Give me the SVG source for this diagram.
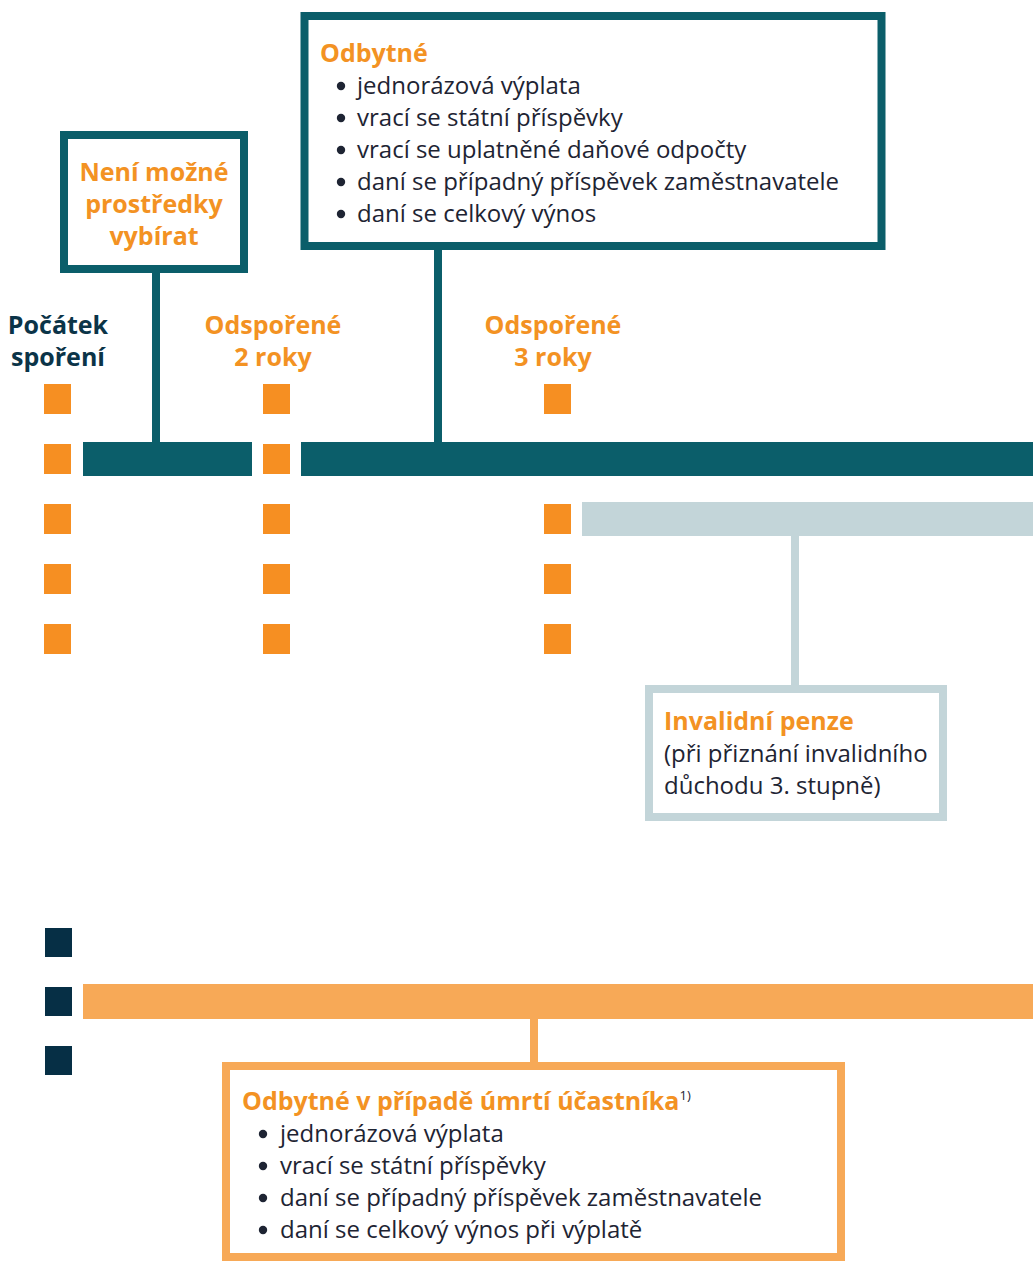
<svg xmlns="http://www.w3.org/2000/svg" width="1033" height="1261" viewBox="0 0 1033 1261">
<style>
.teal{fill:#0b5e6a}
.tealS{fill:#fff;stroke:#0b5e6a;stroke-width:8}
.lblue{fill:#c3d5d9}
.lblueS{fill:#fff;stroke:#c3d5d9;stroke-width:8}
.lor{fill:#f7a957}
.lorS{fill:#fff;stroke:#f7a957;stroke-width:8}
.sq{fill:#f68f22}
.nsq{fill:#062f45}
.b{fill:#1e2433}
.t{font-family:"Open Sans","Noto Sans","DejaVu Sans",sans-serif;font-size:24px;fill:#1e2433}
.h{font-family:"Open Sans","Noto Sans","DejaVu Sans",sans-serif;font-size:25px;font-weight:700;fill:#f39223}
.n{font-family:"Open Sans","Noto Sans","DejaVu Sans",sans-serif;font-size:25px;font-weight:700;fill:#0b3448}
.c{text-anchor:middle}
</style>
<rect width="1033" height="1261" fill="#fff"/>

<g id="connectors">
  <rect x="83" y="442" width="169" height="34" class="teal"/>
  <rect x="301" y="442" width="732" height="34" class="teal"/>
  <rect x="152" y="270" width="8" height="173" class="teal"/>
  <rect x="434" y="246" width="8" height="197" class="teal"/>
  <rect x="582" y="502" width="451" height="34" class="lblue"/>
  <rect x="791" y="535" width="8" height="152" class="lblue"/>
  <rect x="83" y="984" width="950" height="35" class="lor"/>
  <rect x="530" y="1018" width="8" height="46" class="lor"/>
</g>

<g id="markers">
  <rect x="44" y="384" width="27" height="30" class="sq"/>
  <rect x="44" y="444" width="27" height="30" class="sq"/>
  <rect x="44" y="504" width="27" height="30" class="sq"/>
  <rect x="44" y="564" width="27" height="30" class="sq"/>
  <rect x="44" y="624" width="27" height="30" class="sq"/>
  <rect x="263" y="384" width="27" height="30" class="sq"/>
  <rect x="263" y="444" width="27" height="30" class="sq"/>
  <rect x="263" y="504" width="27" height="30" class="sq"/>
  <rect x="263" y="564" width="27" height="30" class="sq"/>
  <rect x="263" y="624" width="27" height="30" class="sq"/>
  <rect x="544" y="384" width="27" height="30" class="sq"/>
  <rect x="544" y="504" width="27" height="30" class="sq"/>
  <rect x="544" y="564" width="27" height="30" class="sq"/>
  <rect x="544" y="624" width="27" height="30" class="sq"/>
  <rect x="45" y="928" width="27" height="29" class="nsq"/>
  <rect x="45" y="987" width="27" height="29" class="nsq"/>
  <rect x="45" y="1046" width="27" height="29" class="nsq"/>
</g>

<g id="label-pocatek">
  <text class="n c" x="58" y="334">Počátek</text>
  <text class="n c" x="58" y="366">spoření</text>
</g>
<g id="label-2roky">
  <text class="h c" x="273" y="334">Odspořené</text>
  <text class="h c" x="273" y="366">2 roky</text>
</g>
<g id="label-3roky">
  <text class="h c" x="553" y="334">Odspořené</text>
  <text class="h c" x="553" y="366">3 roky</text>
</g>

<g id="node-neni-mozne">
  <rect x="64" y="135" width="180" height="134" class="tealS"/>
  <text class="h c" x="154" y="181">Není možné</text>
  <text class="h c" x="154" y="213">prostředky</text>
  <text class="h c" x="154" y="245">vybírat</text>
</g>

<g id="node-odbytne">
  <rect x="304.5" y="16" width="577" height="230" class="tealS"/>
  <text class="h" x="320" y="62">Odbytné</text>
  <circle cx="341" cy="86" r="4.2" class="b"/>
  <circle cx="341" cy="118" r="4.2" class="b"/>
  <circle cx="341" cy="150" r="4.2" class="b"/>
  <circle cx="341" cy="182" r="4.2" class="b"/>
  <circle cx="341" cy="214" r="4.2" class="b"/>
  <text class="t" x="357" y="94">jednorázová výplata</text>
  <text class="t" x="357" y="126">vrací se státní příspěvky</text>
  <text class="t" x="357" y="158">vrací se uplatněné daňové odpočty</text>
  <text class="t" x="357" y="190">daní se případný příspěvek zaměstnavatele</text>
  <text class="t" x="357" y="222">daní se celkový výnos</text>
</g>

<g id="node-invalidni">
  <rect x="649" y="689" width="294" height="128" class="lblueS"/>
  <text class="h" x="664" y="730">Invalidní penze</text>
  <text class="t" x="664" y="762">(při přiznání invalidního</text>
  <text class="t" x="664" y="794">důchodu 3. stupně)</text>
</g>

<g id="node-umrti">
  <rect x="226" y="1066" width="615" height="191" class="lorS"/>
  <text class="h" x="242" y="1110">Odbytné v případě úmrtí účastníka<tspan class="t" style="font-size:13px;font-weight:400" dy="-10">1)</tspan></text>
  <circle cx="263" cy="1134" r="4.2" class="b"/>
  <circle cx="263" cy="1166" r="4.2" class="b"/>
  <circle cx="263" cy="1198" r="4.2" class="b"/>
  <circle cx="263" cy="1230" r="4.2" class="b"/>
  <text class="t" x="280" y="1142">jednorázová výplata</text>
  <text class="t" x="280" y="1174">vrací se státní příspěvky</text>
  <text class="t" x="280" y="1206">daní se případný příspěvek zaměstnavatele</text>
  <text class="t" x="280" y="1238">daní se celkový výnos při výplatě</text>
</g>
</svg>
